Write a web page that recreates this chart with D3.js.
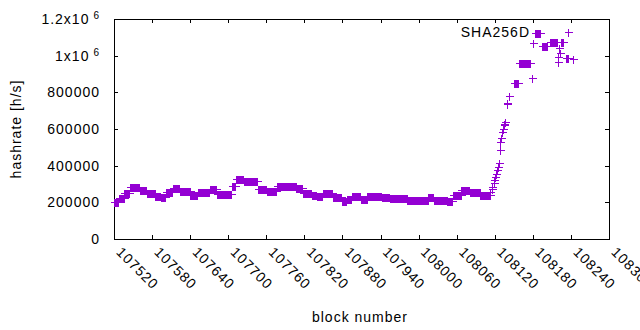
<!DOCTYPE html>
<html>
<head>
<meta charset="utf-8">
<script src="https://cdn.jsdelivr.net/npm/d3@7"></script>
<style>
body { margin: 0; background: #fff; }
text { font-family: "Liberation Sans", Arial, sans-serif; font-size: 14px; letter-spacing: 1px; fill: #000; }
</style>
</head>
<body>
<div id="chart"></div>
<script>
// runs of blocks that share the same hashrate estimate (start block, end block, h/s)
var runStart = [107520, 107528, 107536, 107545, 107561, 107572, 107585, 107594, 107602, 107613,
    107624, 107640, 107652, 107671, 107682, 107706, 107712, 107725, 107747, 107761,
    107777, 107807, 107818, 107832, 107840, 107849, 107865, 107879, 107887, 107895,
    107909, 107919, 107942, 107955, 107982, 108015, 108024, 108045, 108054, 108067,
    108081, 108097,
    108112, 108113, 108115, 108116, 108118, 108119, 108121, 108122, 108123, 108125,
    108126, 108128, 108129, 108130, 108132, 108133, 108134, 108135, 108136, 108139,
    108140, 108142, 108150, 108158, 108178, 108181, 108184, 108195, 108207, 108219,
    108220, 108221, 108222, 108225, 108232, 108243];
var runEnd = [107527, 107535, 107544, 107560, 107571, 107584, 107593, 107601, 107612, 107623,
    107639, 107651, 107670, 107681, 107705, 107711, 107724, 107746, 107760, 107776,
    107806, 107817, 107831, 107839, 107848, 107864, 107878, 107886, 107894, 107908,
    107918, 107941, 107954, 107981, 108014, 108023, 108044, 108053, 108066, 108080,
    108096, 108111,
    108112, 108113, 108115, 108116, 108118, 108119, 108121, 108122, 108123, 108125,
    108126, 108128, 108129, 108130, 108132, 108133, 108134, 108135, 108136, 108139,
    108140, 108142, 108156, 108176, 108178, 108181, 108192, 108203, 108218, 108219,
    108220, 108221, 108222, 108228, 108235, 108243];
var runRate = [200000, 225000, 250000, 285000, 270000, 250000, 235000, 228000, 255000, 278000,
    262000, 242000, 255000, 272000, 245000, 290000, 325000, 315000, 272000, 262000,
    290000, 278000, 252000, 242000, 235000, 250000, 228000, 205000, 220000, 237000,
    218000, 235000, 228000, 226000, 212000, 230000, 215000, 205000, 240000, 268000,
    257000, 238000,
    240000, 256000, 273000, 284000, 305000, 322000, 338000, 355000, 376000, 393000,
    415000, 485000, 530000, 550000, 585000, 600000, 620000, 630000, 640000, 735000,
    740000, 780000, 850000, 960000, 876000, 1070000, 1122000, 1052000, 1075000, 967000,
    991000, 1040000, 1016000, 1077000, 990000, 980000];

var xTicks = [107520, 107580, 107640, 107700, 107760, 107820, 107880, 107940,
    108000, 108060, 108120, 108180, 108240, 108300];
var yTicks = [0, 200000, 400000, 600000, 800000, 1000000, 1200000];
var seriesName = "SHA256D";
var color = "#9400d3";

var svgWidth = 640;
var svgHeight = 330;
var margin = {top: 19, right: 31, bottom: 91, left: 114};
var width = svgWidth - margin.left - margin.right;
var height = svgHeight - margin.top - margin.bottom;

var svg = d3.select("#chart")
    .append("svg")
    .attr("width", svgWidth)
    .attr("height", svgHeight);

var chartGroup = svg.append("g")
    .attr("transform", `translate(${margin.left}, ${margin.top})`);

// one point per block
var points = [];
runStart.forEach(function(s, i) {
    for (var b = s; b <= runEnd[i]; b++) {
        points.push({block: b, rate: runRate[i]});
    }
});

var xScale = d3.scaleLinear()
    .domain([107520, 108300])
    .range([0, width]);
var yScale = d3.scaleLinear()
    .domain([0, 1200000])
    .range([height, 0]);

function yLabel(sel) {
    sel.each(function(d) {
        var t = d3.select(this);
        if (d >= 1000000) {
            t.text(null);
            t.append("tspan").text(d3.format("")(d / 1000000) + "x10");
            t.append("tspan").attr("dx", 4).attr("dy", -5).style("font-size", "10px").text("6");
        }
    });
}

// axes (ticks point inward, mirrored)
var xAxis = chartGroup.append("g")
    .attr("transform", `translate(0, ${height})`)
    .call(d3.axisBottom(xScale).tickValues(xTicks).tickSizeInner(-4).tickSizeOuter(0).tickFormat(d3.format("")));
xAxis.selectAll("text")
    .attr("y", 0)
    .attr("dy", 0)
    .attr("transform", "translate(1,14) rotate(45)")
    .style("text-anchor", "start");

var yAxis = chartGroup.append("g")
    .call(d3.axisLeft(yScale).tickValues(yTicks).tickSizeInner(-4).tickSizeOuter(0).tickPadding(14).tickFormat(d3.format("")));
yAxis.selectAll("text").call(yLabel);

chartGroup.append("g")
    .call(d3.axisTop(xScale).tickValues(xTicks).tickSizeInner(-4).tickSizeOuter(0).tickFormat(""));
chartGroup.append("g")
    .attr("transform", `translate(${width}, 0)`)
    .call(d3.axisRight(yScale).tickValues(yTicks).tickSizeInner(-4).tickSizeOuter(0).tickFormat(""));

chartGroup.selectAll(".domain").remove();
chartGroup.selectAll(".tick line").attr("stroke", "#000").attr("shape-rendering", "crispEdges");
chartGroup.selectAll(".tick text").style("font-size", null).style("font-family", null);
chartGroup.selectAll("g").attr("font-size", null).attr("font-family", null);

chartGroup.append("rect")
    .attr("x", 0.5)
    .attr("y", 0.5)
    .attr("width", width)
    .attr("height", height)
    .attr("fill", "none")
    .attr("stroke", "#000")
    .attr("shape-rendering", "crispEdges");

function plus(x, y) {
    x = Math.round(x) + 0.5;
    y = Math.round(y) + 0.5;
    return `M${x - 4},${y}H${x + 4}M${x},${y - 4}V${y + 4}`;
}

// data points
chartGroup.selectAll(".pt")
    .data(points)
    .enter()
    .append("path")
    .classed("pt", true)
    .attr("d", d => plus(xScale(d.block), yScale(d.rate)))
    .attr("stroke", color)
    .attr("stroke-width", 1)
    .attr("fill", "none")
    .attr("shape-rendering", "crispEdges");

// key
svg.append("text")
    .attr("x", 530)
    .attr("y", 37)
    .style("text-anchor", "end")
    .text(seriesName);
svg.append("path")
    .attr("d", plus(568, 32))
    .attr("stroke", color)
    .attr("fill", "none")
    .attr("shape-rendering", "crispEdges");

// axis titles
svg.append("text")
    .attr("x", 360)
    .attr("y", 322)
    .style("text-anchor", "middle")
    .text("block number");
svg.append("text")
    .attr("transform", "translate(21,129) rotate(-90)")
    .style("text-anchor", "middle")
    .text("hashrate [h/s]");
</script>
</body>
</html>
